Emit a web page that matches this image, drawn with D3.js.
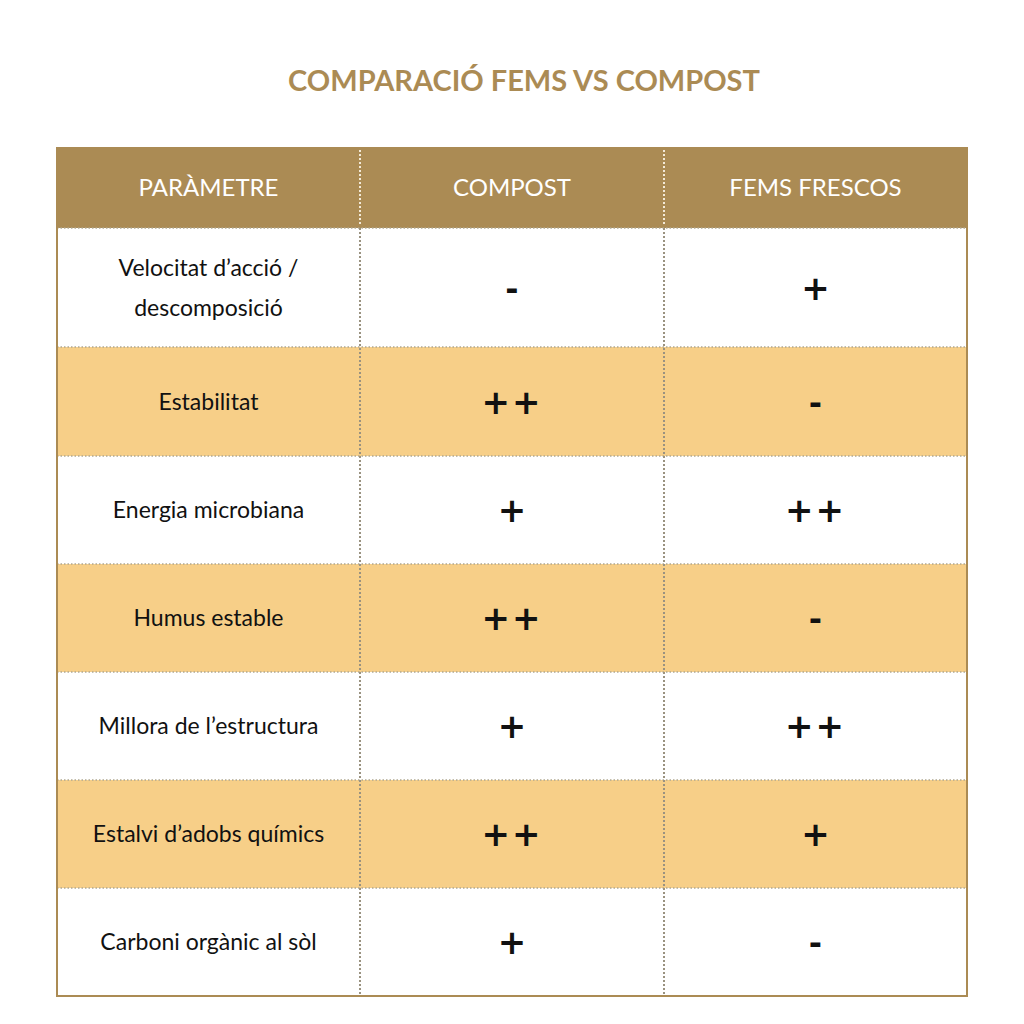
<!DOCTYPE html><html><head><meta charset="utf-8"><script src="https://cdn.jsdelivr.net/npm/d3@7"></script>
<style>body{margin:0;background:#fff}</style></head><body><svg id="c" width="1024" height="1024"></svg>
<script>
const title="COMPARACIÓ FEMS VS COMPOST";
const headers=["PARÀMETRE","COMPOST","FEMS FRESCOS"];
const params=[["Velocitat d’acció /","descomposició"],["Estabilitat"],["Energia microbiana"],["Humus estable"],["Millora de l’estructura"],["Estalvi d’adobs químics"],["Carboni orgànic al sòl"]];
const compost=["-","++","+","++","+","++","+"];
const fems=["+","-","++","-","++","+","-"];
const rowBounds=[228,347,456,564,672,780,888,996];
const colBounds=[57,360,664,967];
const svg=d3.select("#c");
const gold="#ab8b54",sand="#f7cf88";
svg.append("text").attr("x",524).attr("y",91).attr("text-anchor","middle").attr("font-family","Lato").attr("font-weight","bold").attr("font-size",29).attr("fill",gold).text(title);
svg.append("rect").attr("x",57).attr("y",148).attr("width",910).attr("height",80).attr("fill",gold);
params.forEach((p,i)=>{
 const y0=rowBounds[i],y1=rowBounds[i+1];
 svg.append("rect").attr("x",57).attr("y",y0).attr("width",910).attr("height",y1-y0).attr("fill",i%2?sand:"#fff");
 const cy=(y0+y1)/2;
 const cx=d=> (colBounds[d]+colBounds[d+1])/2;
 p.forEach((l,k)=>svg.append("text").attr("x",cx(0)).attr("y",cy+8+(k-(p.length-1)/2)*40).attr("text-anchor","middle").attr("font-family","Lato").attr("font-size",23).attr("fill","#111").text(l));
 [compost[i],fems[i]].forEach((s,j)=>svg.append("text").attr("x",cx(j+1)).attr("y",cy+12).attr("text-anchor","middle").attr("font-family","DejaVu Sans").attr("font-weight","bold").attr("font-size",s==="-"?32:34).attr("letter-spacing",s==="++"?2:0).attr("fill","#111").text(s));
});
headers.forEach((h,j)=>svg.append("text").attr("x",(colBounds[j]+colBounds[j+1])/2).attr("y",196).attr("text-anchor","middle").attr("font-family","Lato").attr("font-size",24).attr("fill","#fff").text(h));
// dotted grid
rowBounds.slice(0,-1).forEach(y=>svg.append("line").attr("x1",57).attr("x2",967).attr("y1",y).attr("y2",y).attr("stroke","#b0a890").attr("stroke-width",1.5).attr("stroke-dasharray","1.5,2"));
[360,664].forEach(x=>{
 svg.append("line").attr("x1",x).attr("x2",x).attr("y1",150).attr("y2",226).attr("stroke","#f3ead8").attr("stroke-width",2).attr("stroke-dasharray","2,2");
 svg.append("line").attr("x1",x).attr("x2",x).attr("y1",228).attr("y2",996).attr("stroke","#9a9280").attr("stroke-width",2).attr("stroke-dasharray","2,2");
});
svg.append("rect").attr("x",57).attr("y",148).attr("width",910).attr("height",848).attr("fill","none").attr("stroke",gold).attr("stroke-width",2);
</script></body></html>
